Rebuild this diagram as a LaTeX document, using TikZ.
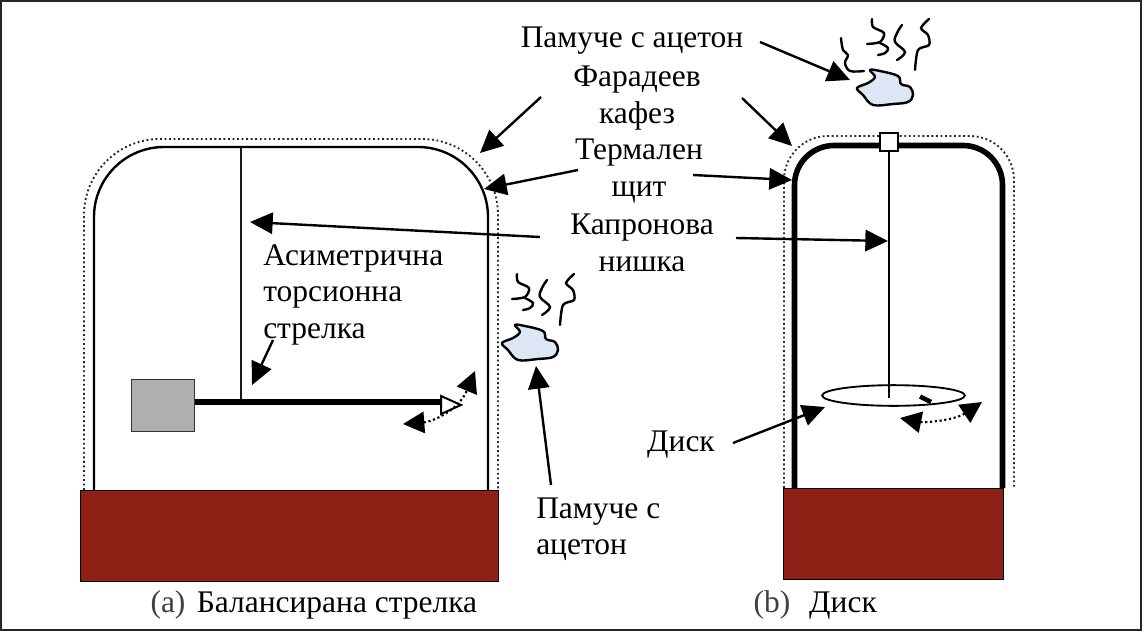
\documentclass[tikz,border=0pt]{standalone}
\usepackage{fontspec}
\setmainfont{Liberation Serif}
\usetikzlibrary{arrows.meta,shapes.geometric}
\definecolor{basered}{HTML}{8E2015}
\definecolor{cotton}{HTML}{DCE6F4}
\definecolor{weightgrey}{HTML}{B0AFAE}
\tikzset{
  x=0.75pt,y=-0.75pt,
  textlabel/.style={inner sep=0pt,font=\fontsize{23.6}{27.4}\selectfont,align=center},
  leftlabel/.style={textlabel,align=left},
  captext/.style={inner sep=0pt,anchor=base,font=\fontsize{23.6}{27.4}\selectfont},
  pointer/.style={line width=1.8pt,-{Triangle[length=17pt,width=16pt]}},
  swing/.style={line width=1.6pt,dotted,{Triangle[length=16pt,width=16pt]}-{Triangle[length=16pt,width=16pt]}},
  shieldthin/.style={line width=1.8pt,draw=black},
  shieldthick/.style={line width=4.2pt,draw=black},
  cage/.style={line width=1.4pt,dotted,draw=black!85},
  wire/.style={line width=1.4pt,draw=black!90},
  basebox/.style={fill=basered,draw=black,line width=1pt,inner sep=0pt,anchor=north west},
  smoke/.style={line width=1.8pt,draw=black,line cap=round},
  cottonball/.style={fill=cotton,draw=black,line width=1.8pt,line join=round},
}
\newcommand{\cottonpuff}[1]{%
  \begin{scope}[shift={(#1)}]
    \draw[cottonball] plot[smooth cycle,tension=0.6] coordinates {(870,70)(880,71)(898,76)(901,84)(910,87)(913,95)(908,102)(893,104)(873,105)(863,95)(857,88)(868,83)(875,77)};
    \draw[smoke] plot[smooth,tension=0.5] coordinates {(872,19)(873,27)(884,33)(880,42)(867,44)};
    \draw[smoke] plot[smooth,tension=0.6] coordinates {(880,43)(888,48)(885,53)(878,55)};
    \draw[smoke] plot[smooth,tension=0.6] coordinates {(902,25)(897,33)(895,42)(905,52)(897,60)};
    \draw[smoke] plot[smooth,tension=0.5] coordinates {(929,19)(921,28)(928,35)(929,45)(918,50)(915,70)};
  \end{scope}}
\begin{document}
\begin{tikzpicture}
\useasboundingbox (0,0) rectangle (1144,632);
\fill[white] (0,0) rectangle (1144,632);
\draw[line width=1.2pt,black!85] (1,1) rectangle (1141,630);

% left apparatus
\draw[cage] (84,490) -- (84,215) arc[start angle=180,end angle=90,radius=76*0.75pt] -- (422,139) arc[start angle=90,end angle=0,radius=76*0.75pt] -- (498,490);
\draw[shieldthin] (94,490) -- (94,217) arc[start angle=180,end angle=90,radius=70*0.75pt] -- (418,147) arc[start angle=90,end angle=0,radius=70*0.75pt] -- (488,490);
\node[basebox,minimum width=313.5pt,minimum height=68.25pt] (baseA) at (80,490) {};
\coordinate (wireAtop) at (241,147);
\coordinate (wireAbot) at (241,402);
\draw[wire] (wireAtop) -- (wireAbot);
\node[fill=weightgrey,draw=black!80,line width=0.9pt,inner sep=0pt,minimum width=47pt,minimum height=39pt,anchor=north west] (weight) at (131,379) {};
\coordinate (needletip) at (442,402);
\draw[line width=5pt] (weight.east |- needletip) -- (needletip);
\coordinate (vane1) at (441,396);
\coordinate (vane2) at (461,405);
\coordinate (vane3) at (441,414);
\draw[fill=white,line width=1.5pt,line join=miter] (vane1) -- (vane2) -- (vane3) -- cycle;
\coordinate (swingAa) at (403,424);
\coordinate (swingAb) at (475,371);
\draw[swing] (swingAa) .. controls (430,422) and (458,412) .. (swingAb);

% right apparatus
\draw[cage] (784,488) -- (784,180) arc[start angle=180,end angle=90,radius=44*0.75pt] -- (970,136) arc[start angle=90,end angle=0,radius=44*0.75pt] -- (1014,488);
\draw[shieldthick] (794.5,488) -- (794.5,185) arc[start angle=180,end angle=90,radius=39.5*0.75pt] -- (963,145.5) arc[start angle=90,end angle=0,radius=39.5*0.75pt] -- (1002.5,488);
\node[basebox,minimum width=165pt,minimum height=68.25pt] (baseB) at (783,488) {};
\node[fill=white,draw=black,line width=1.1pt,inner sep=0pt,minimum size=13.5pt] (clamp) at (889,142) {};
\coordinate (wireBbot) at (889,398);
\draw[line width=1.8pt] (clamp.south) -- (wireBbot);
\node[draw=black,line width=1.4pt,ellipse,inner sep=0pt,minimum width=107pt,minimum height=15.5pt] (disc) at (893.5,395.5) {};
\coordinate (marka) at (920,396.5);
\coordinate (markb) at (931,402);
\draw[line width=3.5pt] (marka) -- (markb);
\coordinate (swingBa) at (900,418);
\coordinate (swingBb) at (982,402);
\draw[swing] (swingBa) .. controls (925,423) and (955,420) .. (swingBb);

% cotton
\cottonpuff{0,0}
\draw[smoke] plot[smooth,tension=0.6] coordinates {(841,38)(843,50)(848,55)(845,63)(850,71)(864,71)};
\cottonpuff{-355,255}

% labels
\node[textlabel] (topcotton) at (632,41) {Памуче с ацетон};
\node[textlabel] (faraday) at (637,98) {Фарадеев\\кафез};
\node[textlabel] (thermal) at (639,171) {Термален\\щит};
\node[textlabel] (kapron) at (642,243) {Капронова\\нишка};
\node[leftlabel,anchor=west] (asym) at (263,294.5) {Асиметрична\\торсионна\\стрелка};
\node[textlabel] (disclabel) at (681,445) {Диск};
\node[leftlabel,anchor=west] (botcotton) at (536,529) {Памуче с\\ацетон};
\node[captext,text=black!75] (capa) at (168,612) {(a)};
\node[captext] (capaa) at (337,612) {Балансирана стрелка};
\node[captext,text=black!75] (capb) at (772,612) {(b)};
\node[captext] (capbb) at (843,612) {Диск};

% pointers
\coordinate (t1) at (850,80);
\coordinate (f1) at (760,42);
\draw[pointer] (f1) -- (t1);
\coordinate (t2) at (480,153);
\coordinate (f2) at (541,97);
\draw[pointer] (f2) -- (t2);
\coordinate (t3) at (792,146);
\coordinate (f3) at (742,98);
\draw[pointer] (f3) -- (t3);
\coordinate (t4) at (484,189);
\coordinate (f4) at (578,170);
\draw[pointer] (f4) -- (t4);
\coordinate (t5) at (792,180);
\coordinate (f5) at (693,175);
\draw[pointer] (f5) -- (t5);
\coordinate (t6) at (250,222);
\coordinate (f6) at (540,237);
\draw[pointer] (f6) -- (t6);
\coordinate (t7) at (888,241);
\coordinate (f7) at (736,238);
\draw[pointer] (f7) -- (t7);
\coordinate (t8) at (252,385);
\coordinate (f8) at (273,340);
\draw[pointer] (f8) -- (t8);
\coordinate (t9) at (536,366);
\coordinate (f9) at (551,485);
\draw[pointer] (f9) -- (t9);
\coordinate (t10) at (825,407);
\coordinate (f10) at (733,443);
\draw[pointer] (f10) -- (t10);
\end{tikzpicture}
\end{document}
